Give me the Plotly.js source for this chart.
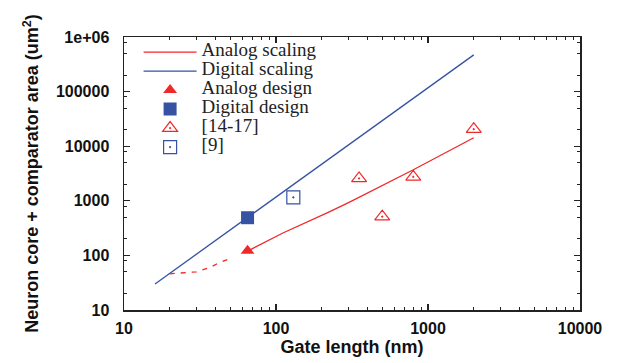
<!DOCTYPE html>
<html>
<head>
<meta charset="utf-8">
<script src="https://cdn.plot.ly/plotly-3.0.1.min.js"></script>
<style>html,body{margin:0;padding:0;background:#fff;}#chart{width:622px;height:363px;}</style>
</head>
<body>
<div id="chart"></div>
<script>
// Data
var digitalScalingX = [16, 65, 2000];
var digitalScalingY = [30, 495, 470000];

var analogScalingX = [65, 111, 226, 307, 795, 2000];
var analogScalingY = [120, 257, 632, 955, 3660, 14300];

var analogDashX = [20, 24.5, 30, 36.8, 41.7, 52];
var analogDashY = [46, 48, 50, 60, 72, 92];

var analogDesignX = [65];
var analogDesignY = [122];

var digitalDesignX = [65];
var digitalDesignY = [490];

var refsAnalogX = [352, 500, 800, 2000];
var refsAnalogY = [2570, 512, 2740, 20500];

var refDigitalX = [130];
var refDigitalY = [1160];

var xTickVals = [10, 100, 1000, 10000];
var xTickText = ['10', '100', '1000', '10000'];
var yTickVals = [10, 100, 1000, 10000, 100000, 1000000];
var yTickText = ['10', '100', '1000', '10000', '100000', '1e+06'];

var legendNames = ['Analog scaling', 'Digital scaling', 'Analog design', 'Digital design', '[14-17]', '[9]'];

var RED = '#f02828';
var BLUE = '#3552a3';

function lg(s) { return '<span style="font-size:19px">' + s + '</span>'; }

// minor ticks at 2,5,8 (y) and 2..9 (x) per decade
var yMinor = [];
var xMinor = [];
[10, 100, 1000, 10000, 100000].forEach(function (d) {
  [2, 5, 8].forEach(function (m) { yMinor.push(d * m); });
});
[10, 100, 1000].forEach(function (d) {
  [2, 3, 4, 5, 6, 7, 8, 9].forEach(function (m) { xMinor.push(d * m); });
});

var traces = [
  {x: analogScalingX, y: analogScalingY, mode: 'lines', name: lg(legendNames[0]),
   line: {color: RED, width: 1.3}},
  {x: digitalScalingX, y: digitalScalingY, mode: 'lines', name: lg(legendNames[1]),
   line: {color: BLUE, width: 1.3}},
  {x: analogDashX, y: analogDashY, mode: 'lines', showlegend: false,
   line: {color: RED, width: 1.3, dash: '5px,6px'}},
  {x: analogDesignX, y: analogDesignY, mode: 'markers', name: lg(legendNames[2]),
   marker: {symbol: 'triangle-up', size: 12, color: RED}},
  {x: digitalDesignX, y: digitalDesignY, mode: 'markers', name: lg(legendNames[3]),
   marker: {symbol: 'square', size: 13, color: BLUE}},
  {x: refsAnalogX, y: refsAnalogY, mode: 'markers', name: lg(legendNames[4]),
   marker: {symbol: 'triangle-up-open-dot', size: 13, color: RED, line: {width: 1.2, color: RED}}},
  {x: refDigitalX, y: refDigitalY, mode: 'markers', name: lg(legendNames[5]),
   marker: {symbol: 'square-open-dot', size: 13, color: BLUE, line: {width: 1.2, color: BLUE}}}
];

var axisCommon = {
  type: 'log',
  showgrid: false,
  zeroline: false,
  showline: true,
  linecolor: '#222',
  linewidth: 1.5,
  mirror: 'allticks',
  ticks: 'inside',
  ticklen: 6,
  tickwidth: 1.2,
  tickcolor: '#222',
  tickmode: 'array',
  tickfont: {family: 'Liberation Sans, Arial, sans-serif', size: 16, color: '#111', weight: 'bold'}
};

var layout = {
  width: 622,
  height: 363,
  margin: {l: 124, r: 42, t: 37, b: 53},
  paper_bgcolor: '#fff',
  plot_bgcolor: '#fff',
  showlegend: true,
  legend: {
    x: 0.032, y: 0.998, xanchor: 'left', yanchor: 'top',
    bgcolor: 'rgba(0,0,0,0)',
    font: {family: 'Liberation Serif, Times New Roman, serif', size: 9, color: '#222'},
    itemwidth: 53,
    tracegroupgap: 0
  },
  xaxis: Object.assign({}, axisCommon, {
    range: [1, 4],
    tickvals: xTickVals, ticktext: xTickText,
    ticklabelstandoff: 3,
    minor: {tickmode: 'array', tickvals: xMinor, ticks: 'inside', ticklen: 3, tickwidth: 1, tickcolor: '#222'},
    title: {text: 'Gate length (nm)', standoff: 4,
            font: {family: 'Liberation Sans, Arial, sans-serif', size: 18, color: '#111', weight: 'bold'}}
  }),
  yaxis: Object.assign({}, axisCommon, {
    range: [1, 6],
    tickvals: yTickVals, ticktext: yTickText,
    ticklabelstandoff: 10,
    minor: {tickmode: 'array', tickvals: yMinor, ticks: 'inside', ticklen: 3, tickwidth: 1, tickcolor: '#222'},
    title: {text: 'Neuron core + comparator area (um<sup>2</sup>)', standoff: 12,
            font: {family: 'Liberation Sans, Arial, sans-serif', size: 18, color: '#111', weight: 'bold'}}
  })
};

Plotly.newPlot('chart', traces, layout, {displayModeBar: false, staticPlot: true});
</script>
</body>
</html>
